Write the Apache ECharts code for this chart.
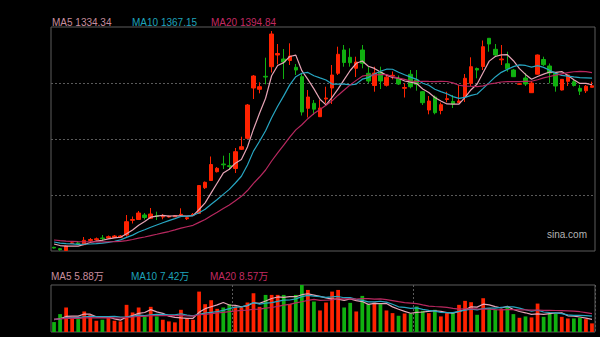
<!DOCTYPE html>
<html>
<head>
<meta charset="utf-8">
<script src="https://cdn.jsdelivr.net/npm/echarts@6/dist/echarts.min.js"></script>
<style>
html, body { margin: 0; padding: 0; background: #000; }
#chart { width: 600px; height: 337px; }
</style>
</head>
<body>
<div id="chart"></div>
<script>
// Daily K-line: [open, close, low, high]
const ohlc = [
  [521.5, 518, 515.5, 524], [514.5, 509.5, 504.5, 518], [505.5, 528, 504.5, 530.5], [540.5, 544, 538, 550.5],
  [543, 539, 533, 549.5], [534.5, 556.5, 533, 573], [555.5, 560.5, 548, 568], [559, 564, 555.5, 570.5],
  [568, 564.5, 553, 583], [568, 574.5, 564.5, 580.5], [570.5, 578, 568, 583], [572, 578, 568, 583],
  [583, 649.5, 574.5, 683], [656.5, 660.5, 640.5, 675.5], [660.5, 693, 658, 703], [683, 670.5, 660.5, 693],
  [666.5, 688, 663, 718], [679.5, 676.5, 658, 699.5], [673, 676.5, 661.5, 688], [673, 676.5, 670.5, 680.5],
  [674, 679, 673, 683], [683, 686.5, 678, 716.5], [664.5, 669.5, 658, 675.5], [682, 686.5, 678, 693],
  [691.5, 830.5, 688, 833], [819.5, 846.5, 813, 850.5], [855.5, 935.5, 853, 975.5], [899.5, 916.5, 895.5, 923],
  [938, 934, 913, 979.5], [929.5, 925.5, 908, 993], [915.5, 999.5, 893, 1018], [1011.5, 1024.5, 1008, 1074.5],
  [1066.5, 1233, 1063, 1238], [1318, 1378, 1263, 1383], [1311.5, 1324.5, 1291.5, 1346.5], [1376.5, 1373, 1336.5, 1469.5],
  [1424.5, 1588, 1395.5, 1603], [1483, 1490.5, 1436.5, 1538], [1463, 1448, 1363, 1513], [1455.5, 1478, 1433, 1541.5],
  [1421.5, 1408, 1383, 1438], [1374.5, 1198, 1180.5, 1393], [1216.5, 1273, 1170.5, 1308], [1241.5, 1212, 1183, 1258],
  [1174.5, 1218, 1173, 1258], [1263, 1268, 1241.5, 1324.5], [1318, 1383, 1238, 1433], [1391.5, 1486.5, 1383, 1524.5],
  [1508, 1445.5, 1424.5, 1533], [1471.5, 1444.5, 1424.5, 1516.5], [1416.5, 1448, 1373, 1474.5], [1508, 1441.5, 1416.5, 1533],
  [1391.5, 1353, 1341.5, 1424.5], [1330.5, 1393, 1299.5, 1424.5], [1398, 1353, 1313, 1424.5], [1331.5, 1372, 1325.5, 1388],
  [1378, 1381.5, 1361.5, 1400.5], [1364, 1338, 1333, 1380.5], [1316.5, 1320.5, 1270.5, 1340.5], [1386.5, 1324.5, 1316.5, 1408],
  [1358, 1336.5, 1304.5, 1408], [1299.5, 1244.5, 1233, 1303], [1208, 1253, 1186.5, 1278], [1273, 1194.5, 1186.5, 1280.5],
  [1205.5, 1234.5, 1186.5, 1245.5], [1260.5, 1264.5, 1246.5, 1299.5], [1250.5, 1238, 1218, 1283], [1245.5, 1253, 1241.5, 1333],
  [1273, 1366.5, 1248, 1388], [1341.5, 1424.5, 1328, 1471.5], [1415.5, 1408, 1366.5, 1420.5], [1425.5, 1524.5, 1408, 1555.5],
  [1566.5, 1538, 1499.5, 1568], [1511.5, 1483, 1474.5, 1538], [1459, 1463, 1433, 1533], [1439, 1414, 1399.5, 1499.5],
  [1408, 1374.5, 1373, 1413], [1336.5, 1339.5, 1334.5, 1341.5], [1368, 1338, 1328, 1393], [1294.5, 1342.8, 1293, 1353],
  [1387, 1483, 1385.5, 1485.5], [1460.5, 1434.5, 1428, 1474.5], [1428, 1393, 1341.5, 1440.5], [1393, 1328, 1299.5, 1398],
  [1308, 1361.3, 1305.5, 1363], [1351.5, 1383.2, 1328, 1385], [1349.5, 1330.5, 1325.5, 1358], [1316.5, 1302, 1283, 1333],
  [1304, 1327, 1293, 1333], [1321.5, 1329, 1320.5, 1349.5]
];

// Closes of the sessions just before the window (feed the moving averages)
const priorCloses = [575, 572, 570, 566, 568, 565, 570, 566, 562, 566, 562, 560, 556, 558, 554, 548, 545, 540, 539];

// Volume, unit: 万 shares
const volume = [
  4.65, 8.37, 11.47, 6.51, 6.05, 9.61, 8.06, 5.27, 5.74, 6.51,
  5.27, 4.96, 12.71, 9.15, 11.47, 7.29, 11.78, 7.29, 5.74, 4.96,
  4.50, 10.39, 6.51, 5.74, 18.91, 13.02, 14.88, 10.85, 11.47, 13.02,
  11.94, 11.47, 13.80, 18.14, 11.78, 17.36, 17.36, 17.36, 17.36, 13.18,
  17.36, 22.0, 19.69, 14.26, 10.08, 13.80, 18.91, 19.69, 11.47, 13.64,
  9.61, 16.90, 13.02, 13.80, 13.02, 10.08, 8.84, 7.60, 8.68, 8.68,
  11.94, 9.92, 8.84, 10.39, 7.29, 8.84, 8.84, 12.71, 14.57, 13.95,
  8.06, 15.81, 11.16, 10.39, 10.70, 11.94, 8.37, 6.66, 7.29, 6.82,
  13.30, 7.10, 8.65, 8.65, 7.10, 6.34, 6.34, 6.65, 6.03, 4.04
];
const priorVolume = [5.8, 6.4, 5.5, 7.0, 6.2, 5.9, 6.6, 5.4, 6.1, 6.8, 5.7, 6.3, 6.0, 5.6, 6.5, 5.9, 6.2, 5.8, 6.1];

const maPeriods = [5, 10, 20];
const maColors = ['#e6a4b6', '#27a6c2', '#b8285f'];
const maTextColors = ['#c98d9e', '#1ea3bb', '#c22a62'];

const upColor = '#ff2200';
const downColor = '#10b010';

const days = ohlc.map((_, i) => 'D' + (i + 1));
const closes = ohlc.map(d => d[1]);

function movingAverage(values, prior, n) {
  const all = prior.concat(values);
  const off = prior.length;
  return values.map((_, i) => {
    let s = 0;
    for (let k = 0; k < n; k++) s += all[off + i - k];
    return s / n;
  });
}

const priceMA = maPeriods.map(n => movingAverage(closes, priorCloses, n));
const volMA = maPeriods.map(n => movingAverage(volume, priorVolume, n));

const font = '10px "Liberation Sans", Arial, "Noto Sans CJK SC", sans-serif';
const legendX = [52, 132, 211];

const texts = [];
maPeriods.forEach((n, k) => {
  const p = priceMA[k][priceMA[k].length - 1];
  const v = volMA[k][volMA[k].length - 1];
  texts.push({
    type: 'text', x: legendX[k], y: 22,
    style: { text: 'MA' + n + ' ' + p.toFixed(2), font: font, fill: maTextColors[k], verticalAlign: 'middle' }
  });
  texts.push({
    type: 'text', x: legendX[k] - 1, y: 276,
    style: { text: 'MA' + n + ' ' + v.toFixed(2) + '万', font: font, fill: maTextColors[k], verticalAlign: 'middle' }
  });
});
texts.push({
  type: 'text', x: 547, y: 234,
  style: { text: 'sina.com', font: font, fill: '#b4b4b4', verticalAlign: 'middle' }
});

const hiddenAxis = { axisLine: { show: false }, axisTick: { show: false }, axisLabel: { show: false } };
const dotted = { color: '#5a5a5a', type: [2, 2], width: 1 };

const series = [
  {
    type: 'candlestick', xAxisIndex: 0, yAxisIndex: 0, data: ohlc, barWidth: '66%',
    itemStyle: { color: upColor, color0: downColor, borderColor: upColor, borderColor0: downColor, borderWidth: 1 }
  },
  {
    type: 'bar', xAxisIndex: 1, yAxisIndex: 2, barWidth: '62%',
    data: volume.map((v, i) => ({ value: v, itemStyle: { color: ohlc[i][1] >= ohlc[i][0] ? upColor : downColor } }))
  }
];
maPeriods.forEach((n, k) => {
  series.push({
    type: 'line', xAxisIndex: 0, yAxisIndex: 0, data: priceMA[k], symbol: 'none', smooth: false,
    lineStyle: { color: maColors[k], width: 1.2 }
  });
  series.push({
    type: 'line', xAxisIndex: 1, yAxisIndex: 2, data: volMA[k], symbol: 'none', smooth: false,
    lineStyle: { color: maColors[k], width: 1.2 }
  });
});

const chart = echarts.init(document.getElementById('chart'), null, { renderer: 'svg' });
chart.setOption({
  backgroundColor: '#000',
  animation: false,
  grid: [
    { left: 51, top: 27, width: 544, height: 224, show: true, borderColor: '#5c5c5c', borderWidth: 1 },
    { left: 51, top: 285, width: 544, height: 47, show: true, borderColor: '#5c5c5c', borderWidth: 1 }
  ],
  xAxis: [
    Object.assign({ type: 'category', gridIndex: 0, data: days, boundaryGap: true, splitLine: { show: false } }, hiddenAxis),
    Object.assign({
      type: 'category', gridIndex: 1, data: days, boundaryGap: true,
      splitLine: { show: true, interval: (i) => i === 30 || i === 60, lineStyle: dotted }
    }, hiddenAxis)
  ],
  yAxis: [
    Object.assign({ type: 'value', gridIndex: 0, min: 503, max: 1623, splitLine: { show: false } }, hiddenAxis),
    Object.assign({
      type: 'value', gridIndex: 0, min: 0, max: 4, interval: 1,
      splitLine: { show: true, showMinLine: false, showMaxLine: false, lineStyle: dotted }
    }, hiddenAxis),
    Object.assign({ type: 'value', gridIndex: 1, min: 0, max: 22, splitLine: { show: false } }, hiddenAxis)
  ],
  series: series,
  graphic: texts
});
</script>
</body>
</html>
